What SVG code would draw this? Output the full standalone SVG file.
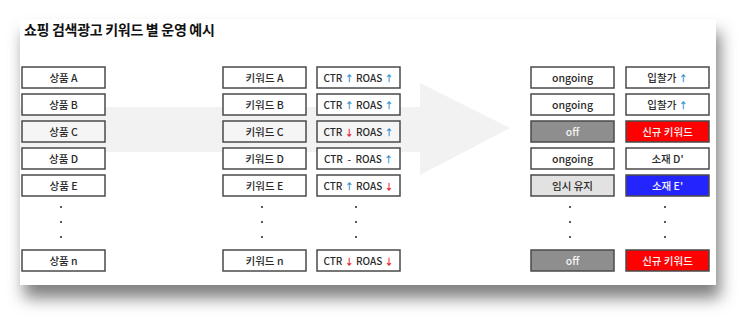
<svg xmlns="http://www.w3.org/2000/svg" width="756" height="327" viewBox="0 0 756 327">
<defs>
<filter id="sh" x="-10%" y="-20%" width="125%" height="150%">
<feDropShadow dx="4" dy="13" stdDeviation="8" flood-color="#000" flood-opacity="0.5"/>
</filter>
<style>
.b{fill:#fff;stroke:#4a4a4a;stroke-width:1.5}
.g{fill:#f5f5f5}
.off{fill:#8e8e8e}
.tmp{fill:#e2e2e2}
.red{fill:#ff0000}
.blue{fill:#2424ff}
text{font-family:"Noto Sans CJK KR","Noto Sans",sans-serif;font-size:10.5px;font-weight:500;fill:#2a2a2a;text-anchor:middle;dominant-baseline:central}
.m{font-size:10px}
.w{fill:#f4f4f4}
.up{fill:#2b8fd4;font-size:9px;font-weight:700}
.dn{fill:#e8202a;font-size:9px;font-weight:700}
.t{font-size:14px;font-weight:700;text-anchor:start;fill:#111;dominant-baseline:auto;letter-spacing:-0.3px}
.dot{fill:#333}
</style>
</defs>
<rect x="20" y="19" width="696" height="266" fill="#fff" filter="url(#sh)"/>
<g id="arrow"><polygon points="20,107 420,107 420,83 510,128 420,175 420,152 20,152" fill="#f2f2f2"/></g>
<text class="t" x="24" y="35">쇼핑 검색광고 키워드 별 운영 예시</text>
<g id="connectors"/>
<g id="col1">
<g id="p-a"><rect class="b" x="22" y="67" width="83" height="21"/><text x="63.5" y="77.5">상품 A</text></g>
<g id="p-b"><rect class="b" x="22" y="94" width="83" height="21"/><text x="63.5" y="104.5">상품 B</text></g>
<g id="p-c"><rect class="b g" x="22" y="121" width="83" height="21"/><text x="63.5" y="131.5">상품 C</text></g>
<g id="p-d"><rect class="b" x="22" y="148" width="83" height="21"/><text x="63.5" y="158.5">상품 D</text></g>
<g id="p-e"><rect class="b" x="22" y="175" width="83" height="21"/><text x="63.5" y="185.5">상품 E</text></g>
<g id="p-n"><rect class="b" x="22" y="250" width="83" height="21"/><text x="63.5" y="260.5">상품 n</text></g>
</g>
<g id="col2">
<g id="k-a"><rect class="b" x="223" y="67" width="83" height="21"/><text x="264.5" y="77.5">키워드 A</text></g>
<g id="k-b"><rect class="b" x="223" y="94" width="83" height="21"/><text x="264.5" y="104.5">키워드 B</text></g>
<g id="k-c"><rect class="b g" x="223" y="121" width="83" height="21"/><text x="264.5" y="131.5">키워드 C</text></g>
<g id="k-d"><rect class="b" x="223" y="148" width="83" height="21"/><text x="264.5" y="158.5">키워드 D</text></g>
<g id="k-e"><rect class="b" x="223" y="175" width="83" height="21"/><text x="264.5" y="185.5">키워드 E</text></g>
<g id="k-n"><rect class="b" x="223" y="250" width="83" height="21"/><text x="264.5" y="260.5">키워드 n</text></g>
</g>
<g id="col3">
<g id="m-a"><rect class="b" x="317" y="67" width="83" height="21"/><text class="m" x="358.5" y="77.5">CTR <tspan class="up">↑</tspan> ROAS <tspan class="up">↑</tspan></text></g>
<g id="m-b"><rect class="b" x="317" y="94" width="83" height="21"/><text class="m" x="358.5" y="104.5">CTR <tspan class="up">↑</tspan> ROAS <tspan class="up">↑</tspan></text></g>
<g id="m-c"><rect class="b g" x="317" y="121" width="83" height="21"/><text class="m" x="358.5" y="131.5">CTR <tspan class="dn">↓</tspan> ROAS <tspan class="up">↑</tspan></text></g>
<g id="m-d"><rect class="b" x="317" y="148" width="83" height="21"/><text class="m" x="358.5" y="158.5">CTR&#160; -&#160; ROAS <tspan class="up">↑</tspan></text></g>
<g id="m-e"><rect class="b" x="317" y="175" width="83" height="21"/><text class="m" x="358.5" y="185.5">CTR <tspan class="up">↑</tspan> ROAS <tspan class="dn">↓</tspan></text></g>
<g id="m-n"><rect class="b" x="317" y="250" width="83" height="21"/><text class="m" x="358.5" y="260.5">CTR <tspan class="dn">↓</tspan> ROAS <tspan class="dn">↓</tspan></text></g>
</g>
<g id="col4">
<g id="s-a"><rect class="b" x="531" y="67" width="83" height="21"/><text x="572.5" y="77.5">ongoing</text></g>
<g id="s-b"><rect class="b" x="531" y="94" width="83" height="21"/><text x="572.5" y="104.5">ongoing</text></g>
<g id="s-c"><rect class="b off" x="531" y="121" width="83" height="21"/><text class="w" x="572.5" y="131.5">off</text></g>
<g id="s-d"><rect class="b" x="531" y="148" width="83" height="21"/><text x="572.5" y="158.5">ongoing</text></g>
<g id="s-e"><rect class="b tmp" x="531" y="175" width="83" height="21"/><text x="572.5" y="185.5">임시 유지</text></g>
<g id="s-n"><rect class="b off" x="531" y="250" width="83" height="21"/><text class="w" x="572.5" y="260.5">off</text></g>
</g>
<g id="col5">
<g id="a-a"><rect class="b" x="626" y="67" width="83" height="21"/><text x="667.5" y="77.5">입찰가 <tspan class="up">↑</tspan></text></g>
<g id="a-b"><rect class="b" x="626" y="94" width="83" height="21"/><text x="667.5" y="104.5">입찰가 <tspan class="up">↑</tspan></text></g>
<g id="a-c"><rect class="b red" x="626" y="121" width="83" height="21"/><text class="w" x="667.5" y="131.5">신규 키워드</text></g>
<g id="a-d"><rect class="b" x="626" y="148" width="83" height="21"/><text x="667.5" y="158.5">소재 D'</text></g>
<g id="a-e"><rect class="b blue" x="626" y="175" width="83" height="21"/><text class="w" x="667.5" y="185.5">소재 E'</text></g>
<g id="a-n"><rect class="b red" x="626" y="250" width="83" height="21"/><text class="w" x="667.5" y="260.5">신규 키워드</text></g>
</g>
<g id="dots">
<circle class="dot" cx="61" cy="207" r="1.1"/><circle class="dot" cx="61" cy="222" r="1.1"/><circle class="dot" cx="61" cy="237" r="1.1"/>
<circle class="dot" cx="262" cy="207" r="1.1"/><circle class="dot" cx="262" cy="222" r="1.1"/><circle class="dot" cx="262" cy="237" r="1.1"/>
<circle class="dot" cx="356" cy="207" r="1.1"/><circle class="dot" cx="356" cy="222" r="1.1"/><circle class="dot" cx="356" cy="237" r="1.1"/>
<circle class="dot" cx="570" cy="207" r="1.1"/><circle class="dot" cx="570" cy="222" r="1.1"/><circle class="dot" cx="570" cy="237" r="1.1"/>
<circle class="dot" cx="665" cy="207" r="1.1"/><circle class="dot" cx="665" cy="222" r="1.1"/><circle class="dot" cx="665" cy="237" r="1.1"/>
</g>
</svg>
